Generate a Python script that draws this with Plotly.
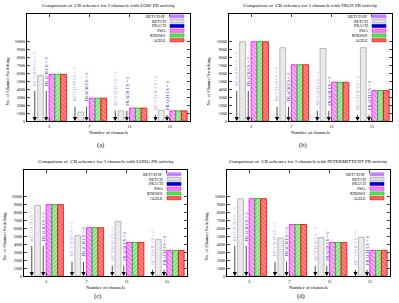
import plotly.graph_objects as go

W, H = 399, 303

categories = ["3", "7", "11", "15"]
series_names = ["RETCH-IP", "RETCH", "PRACH", "SWA", "KNOWS", "AGILE"]

titles = [
    "Comparison of  CB schemes for 3 channels with LOW PR activity",
    "Comparison of  CB schemes for 3 channels with HIGH PR activity",
    "Comparison of  CB schemes for 3 channels with LONG PR activity",
    "Comparison of  CB schemes for 3 channels with INTERMITTENT PR activity",
]
captions = ["(a)", "(b)", "(c)", "(d)"]

# values per panel
retch_ip = [[0, 0, 0, 0]] * 4
prach = [[0, 0, 0, 0]] * 4
retch = [
    [5750, 1150, 1300, 1400],
    [10000, 9250, 9150, 9250],
    [8900, 5100, 6900, 4600],
    [9750, 4800, 4850, 4900],
]
swa = [
    [5900, 2900, 1650, 1300],
    [10000, 7100, 4900, 3850],
    [9000, 6100, 4250, 3250],
    [9750, 6500, 4250, 3250],
]
knows = swa
agile = swa
arrow_heights = [4000, 2000, 1500, 1000]

y_ticks = list(range(0, 10001, 1000))

# panel frames in pixels: (left, right, top, bottom)
frames = [
    (27, 190, 14, 122),
    (229, 392, 14, 122),
    (24, 187, 171, 278),
    (227, 390, 171, 278),
]
yranges = [13500, 13500, 13375, 13375]

styles = [
    dict(color="#c080ff", line=dict(width=0), pattern=None),
    dict(color="#e6e6e6", line=dict(color="#a8a8a8", width=0.8),
         pattern=dict(shape="x", fgcolor="#b4b4b4", bgcolor="#f0f0f0", size=3, solidity=0.3)),
    dict(color="#0000c0", line=dict(width=0), pattern=None),
    dict(color="#ff70ff", line=dict(color="#ff00ff", width=0.8),
         pattern=dict(shape="\\", fgcolor="#e000e0", bgcolor="#ffc0ff", size=3, solidity=0.4)),
    dict(color="#60e060", line=dict(color="#00c000", width=0.8),
         pattern=dict(shape="/", fgcolor="#20c020", bgcolor="#b0f0b0", size=3, solidity=0.4)),
    dict(color="#ff5050", line=dict(color="#e00000", width=0.8),
         pattern=dict(shape="\\", fgcolor="#ff2020", bgcolor="#ff9090", size=3, solidity=0.5)),
]
legend_fill = ["#c080ff", "#e0e0e0", "#0000c0", "#ff80ff", "#60e060", "#ff6060"]
legend_line = ["#c080ff", "#a0a0a0", "#0000c0", "#ff00ff", "#00c000", "#e00000"]

FONT = "Liberation Serif"

def px_x(x):
    return x / W

def px_y(y):
    return 1 - y / H

fig = go.Figure()
annotations = []
shapes = []
x_idx = [0, 1, 2, 3]
nb = 6
bw = 1 / 7

for p in range(4):
    sfx = "" if p == 0 else str(p + 1)
    xa, ya = "x" + sfx, "y" + sfx
    data = [retch_ip[p], retch[p], prach[p], swa[p], knows[p], agile[p]]
    for s in range(nb):
        st = styles[s]
        marker = dict(color=st["color"], line=st["line"])
        if st["pattern"]:
            marker["pattern"] = st["pattern"]
        fig.add_trace(go.Bar(
            x=x_idx, y=data[s], name=series_names[s], marker=marker,
            xaxis=xa, yaxis=ya, showlegend=False, offsetgroup=str(s),
        ))
    l, r, t, b = frames[p]
    fig.layout["xaxis" + sfx] = dict(
        domain=[px_x(l), px_x(r)], anchor=ya, range=[-0.55, 3.5],
        tickvals=x_idx, ticktext=categories, ticks="inside", ticklen=3,
        showline=True, linecolor="black", linewidth=1, mirror="allticks",
        showgrid=False, zeroline=False, tickfont=dict(size=4.5, family=FONT, color="black"),
    )
    fig.layout["yaxis" + sfx] = dict(
        domain=[px_y(b), px_y(t)], anchor=xa, range=[0, yranges[p]],
        tickvals=y_ticks, ticktext=[str(v) for v in y_ticks], ticks="inside", ticklen=3,
        showline=True, linecolor="black", linewidth=1, mirror="allticks",
        showgrid=False, zeroline=False, tickfont=dict(size=4.2, family=FONT, color="black"),
    )
    # arrows and rotated labels
    for g in range(4):
        hgt = arrow_heights[g]
        for slot, txt, col in [(0, "RETCH-IP CS = 0", "#b8a0f0"), (2, "PRACH CS = 0", "#3030c0")]:
            xp = g - 3 * bw + (slot + 0.5) * bw
            annotations.append(dict(
                x=xp, y=0, ax=xp, ay=hgt, xref=xa, yref=ya, axref=xa, ayref=ya,
                text="", showarrow=True, arrowhead=2, arrowsize=1.2, arrowwidth=0.7,
                arrowcolor="black", standoff=0, startstandoff=0,
            ))
            annotations.append(dict(
                x=xp, y=hgt + 150, xref=xa, yref=ya, text=txt, showarrow=False,
                textangle=-90, xanchor="center", yanchor="bottom",
                font=dict(size=4.6, family=FONT, color=col),
            ))
    # title
    cx = (l + r) / 2
    annotations.append(dict(x=px_x(cx), y=px_y(t - 8), xref="paper", yref="paper",
                            text=titles[p], showarrow=False, xanchor="center", yanchor="middle",
                            font=dict(size=5, family=FONT, color="black")))
    # y title
    yt_x = [7, 208, 4, 206][p]
    y0px = b
    y10px = b - (b - t) * 10000 / yranges[p]
    annotations.append(dict(x=px_x(yt_x), y=px_y((y0px + y10px) / 2), xref="paper", yref="paper",
                            text="No. of Channel Switching", showarrow=False, textangle=-90,
                            xanchor="center", yanchor="middle",
                            font=dict(size=4.6, family=FONT, color="black")))
    # x title
    annotations.append(dict(x=px_x(cx), y=px_y(b + 11), xref="paper", yref="paper",
                            text="Number of channels", showarrow=False, xanchor="center", yanchor="middle",
                            font=dict(size=4.8, family=FONT, color="black")))
    # caption
    annotations.append(dict(x=px_x(cx - 8), y=px_y(b + 24 if p < 2 else b + 20), xref="paper", yref="paper",
                            text=captions[p], showarrow=False, xanchor="center", yanchor="middle",
                            font=dict(size=6.5, family=FONT, color="black")))
    # legend (text then sample, as in reference)
    ly0 = t + (2.5 if p < 2 else 4.5)
    for s in range(nb):
        yy = ly0 + s * 4.8
        annotations.append(dict(x=px_x(r - 22), y=px_y(yy), xref="paper", yref="paper",
                                text=series_names[s], showarrow=False, xanchor="right", yanchor="middle",
                                font=dict(size=4.2, family=FONT, color="black")))
        shapes.append(dict(type="rect", xref="paper", yref="paper",
                           x0=px_x(r - 20), x1=px_x(r - 6), y0=px_y(yy + 1.6), y1=px_y(yy - 1.6),
                           fillcolor=legend_fill[s], line=dict(color=legend_line[s], width=0.6)))

fig.update_layout(
    width=W, height=H, margin=dict(l=0, r=0, t=0, b=0),
    paper_bgcolor="white", plot_bgcolor="white",
    barmode="group", bargap=1 / 7, bargroupgap=0,
    annotations=annotations, shapes=shapes, showlegend=False,
    font=dict(family=FONT, color="black"),
)

fig.write_html("out.html")
